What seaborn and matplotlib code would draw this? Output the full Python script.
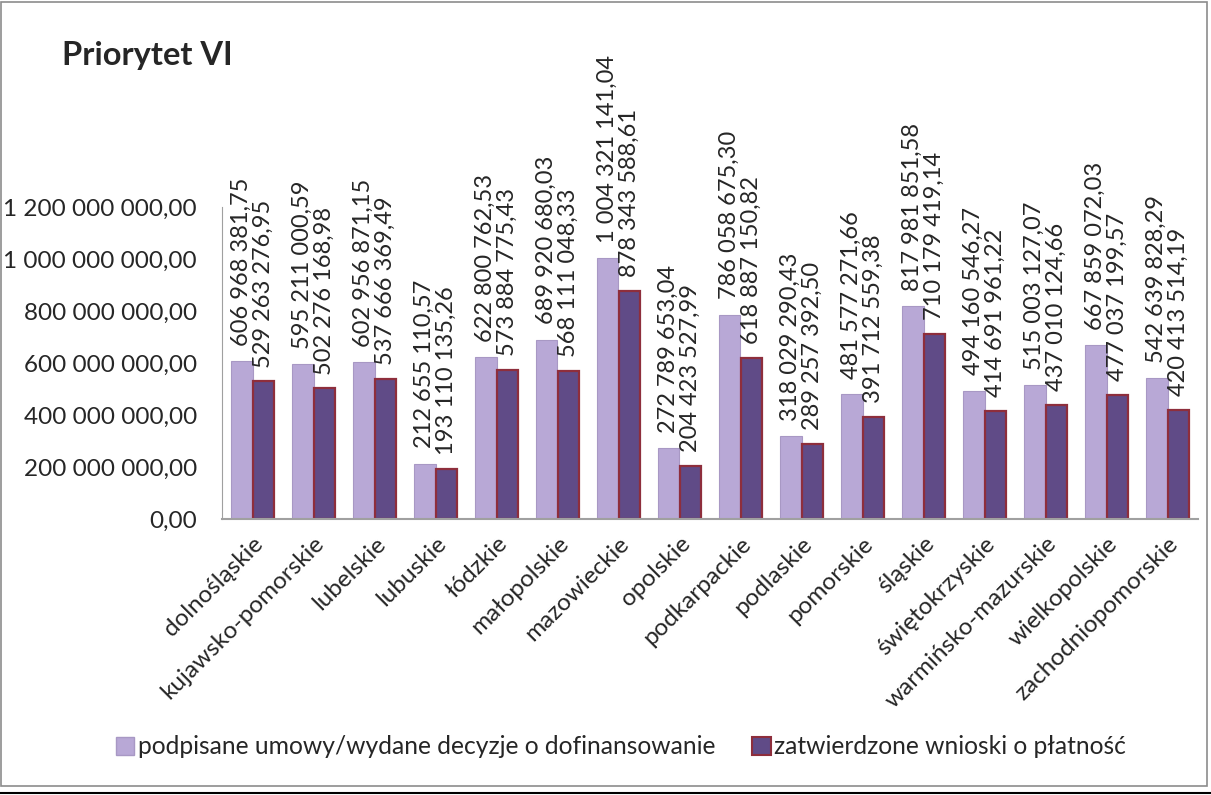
import numpy as np
import pandas as pd
import matplotlib.pyplot as plt
import seaborn as sns
from matplotlib.patches import Patch, Rectangle
from matplotlib.lines import Line2D

regions = ["dolnośląskie", "kujawsko-pomorskie", "lubelskie", "lubuskie", "łódzkie",
           "małopolskie", "mazowieckie", "opolskie", "podkarpackie", "podlaskie",
           "pomorskie", "śląskie", "świętokrzyskie", "warmińsko-mazurskie",
           "wielkopolskie", "zachodniopomorskie"]
umowy = [606968381.75, 595211000.59, 602956871.15, 212655110.57, 622800762.53,
         689920680.03, 1004321141.04, 272789653.04, 786058675.30, 318029290.43,
         481577271.66, 817981851.58, 494160546.27, 515003127.07, 667859072.03,
         542639828.29]
wnioski = [529263276.95, 502276168.98, 537666369.49, 193110135.26, 573884775.43,
           568111048.33, 878343588.61, 204423527.99, 618887150.82, 289257392.50,
           391712559.38, 710179419.14, 414691961.22, 437010124.66, 477037199.57,
           420413514.19]
series = ["podpisane umowy/wydane decyzje o dofinansowanie",
          "zatwierdzone wnioski o płatność"]
yticks = [0, 2e8, 4e8, 6e8, 8e8, 1e9, 1.2e9]

light = "#b8a8d6"
dark = "#604b87"
dark_edge = "#8e2e3c"


def pl_fmt(v):
    s = f"{v:,.2f}"
    return s.replace(",", " ").replace(".", ",")


sns.set_style("white")
plt.rcParams["font.family"] = ["Lato", "DejaVu Sans"]

df = pd.DataFrame({
    "region": regions * 2,
    "value": umowy + wnioski,
    "series": [series[0]] * len(regions) + [series[1]] * len(regions),
})

fig = plt.figure(figsize=(12.11, 7.95), dpi=100)
ax = fig.add_axes([222 / 1211, 1 - 519 / 795, 976 / 1211, 312 / 795])

sns.barplot(data=df, x="region", y="value", hue="series", palette=[light, dark],
            width=0.72, saturation=1, ax=ax, legend=False)

for bar in ax.containers[0]:
    bar.set_edgecolor("#a898c4")
    bar.set_linewidth(0.8)
for bar in ax.containers[1]:
    bar.set_edgecolor(dark_edge)
    bar.set_linewidth(1.6)

ax.bar_label(ax.containers[0], labels=[pl_fmt(v) for v in umowy], rotation=90,
             padding=11, fontsize=17)
ax.bar_label(ax.containers[1], labels=[pl_fmt(v) for v in wnioski], rotation=90,
             padding=10, fontsize=17)

ax.set_ylim(0, 1.2e9)
ax.set_xlim(-0.5, len(regions) - 0.5)
ax.set_yticks(yticks)
ax.set_yticklabels([pl_fmt(v) for v in yticks], fontsize=17.5)
ax.set_xticks(range(len(regions)))
ax.set_xticklabels(regions, rotation=45, ha="right", rotation_mode="anchor", fontsize=17.5)
ax.tick_params(axis="y", length=0, pad=18)
ax.tick_params(axis="x", length=0, pad=10)
ax.set_xlabel("")
ax.set_ylabel("")
ax.set_facecolor("none")
for side in ["top", "right"]:
    ax.spines[side].set_visible(False)
ax.spines["left"].set_color("#a0a0a0")
ax.spines["bottom"].set_color("#a0a0a0")
ax.spines["bottom"].set_linewidth(1.5)

fig.text(62 / 1211, 1 - 56 / 795, "Priorytet VI", fontsize=23.5, fontweight="bold",
         va="center", ha="left")

handles = [Patch(facecolor=light, edgecolor="#a898c4"),
           Patch(facecolor=dark, edgecolor=dark_edge, linewidth=1.5)]
fig.legend(handles, series, loc="center", bbox_to_anchor=(621 / 1211, 1 - 747 / 795),
           ncol=2, frameon=False, fontsize=17.7, handlelength=0.75, handleheight=0.75,
           handletextpad=0.15, columnspacing=1.5)

fig.patches.append(Rectangle((1 / 1211, 1 - 786 / 795), 1206 / 1211, 784 / 795,
                             transform=fig.transFigure, fill=False,
                             edgecolor="#8c8c8c", linewidth=1.2))
fig.lines.append(Line2D([0, 1], [1 - 793 / 795] * 2, transform=fig.transFigure,
                        color="black", linewidth=1.5))

fig.savefig("out.png", dpi=100)
